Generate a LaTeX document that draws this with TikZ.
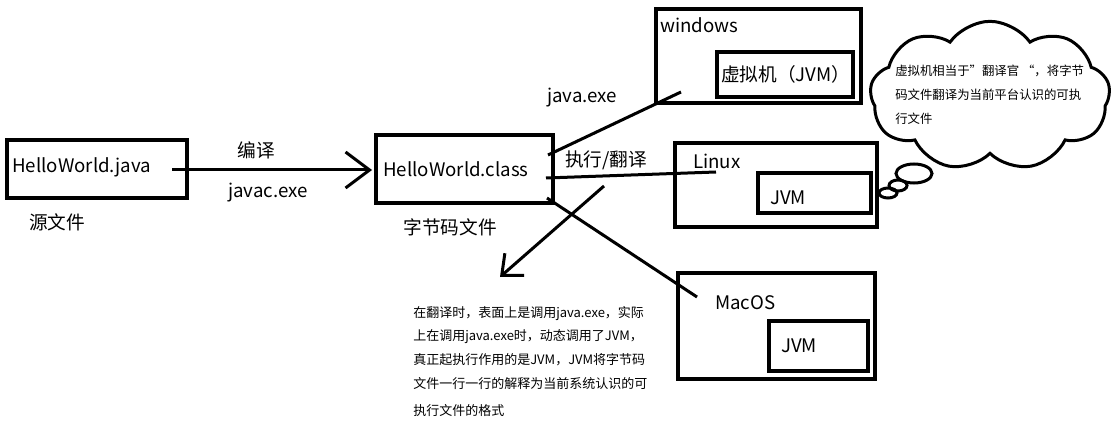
\documentclass[tikz,border=0pt]{standalone}
\usepackage{fontspec}
\setmainfont{Noto Sans CJK SC}
\usetikzlibrary{arrows.meta,shapes.symbols,shapes.geometric}
\begin{document}
\begin{tikzpicture}[x=0.75pt,y=-0.75pt,
  box/.style={draw,line width=2.6pt,rectangle,inner sep=0pt},
  conn/.style={line width=2.25pt},
  big/.style={font=\fontsize{14pt}{16pt}\selectfont,inner sep=0pt},
  small/.style={font=\fontsize{9.75pt}{12pt}\selectfont,inner sep=0pt,anchor=base west},
  cloudtext/.style={font=\fontsize{9.3pt}{12pt}\selectfont,inner sep=0pt,anchor=base west},
  bubble/.style={draw,line width=2.25pt,ellipse,inner sep=0pt}]
\useasboundingbox (0,0) rectangle (1118,431);
% boxes
\node[box,minimum width=135pt,minimum height=43.5pt] (java) at (97,169) {};
\node[box,minimum width=132.75pt,minimum height=51pt] (class) at (464.5,169) {};
\node[box,minimum width=153.75pt,minimum height=70.5pt] (win) at (758.5,56) {};
\node[box,minimum width=102pt,minimum height=33.75pt] (winjvm) at (785,74.5) {};
\node[box,minimum width=151.5pt,minimum height=63pt] (linux) at (776,185) {};
\node[box,minimum width=84.75pt,minimum height=30pt] (linuxjvm) at (814.5,193) {};
\node[box,minimum width=147.75pt,minimum height=79.5pt] (mac) at (776.5,326) {};
\node[box,minimum width=74.25pt,minimum height=37.5pt] (macjvm) at (818.5,346) {};
% labels
\node[big,anchor=base west] (tjava) at (12,173) {HelloWorld.java};
\node[big] (tsrc) at (57,222) {源文件};
\node[big] (tcomp) at (256,150) {编译};
\node[big,anchor=base] (tjavac) at (268,198) {javac.exe};
\node[big,anchor=base west] (tclass) at (383,177) {HelloWorld.class};
\node[big] (tbyte) at (450,227) {字节码文件};
\node[big] (texec) at (606,160) {执行/翻译};
\node[big,anchor=base] (tjexe) at (582,103) {java.exe};
\node[big,anchor=base west] (twin) at (660,33) {windows};
\node[big,anchor=base west] (twinjvm) at (721,82) {虚拟机（JVM）};
\node[big,anchor=base west] (tlinux) at (693,169) {Linux};
\node[big,anchor=base west] (tlinuxjvm) at (770,205) {JVM};
\node[big,anchor=base west] (tmac) at (715,309) {MacOS};
\node[big,anchor=base west] (tmacjvm) at (781,352) {JVM};
% connectors
\coordinate (c1) at (172,170);
\coordinate (c2) at (372,170);
\draw[conn,-{Straight Barb[length=18pt,width=27pt]}] (c1) -- (c2);
\coordinate (w1) at (548,155);
\coordinate (w2) at (681,92);
\draw[conn] (w1) -- (w2);
\coordinate (l1) at (546,178);
\coordinate (l2) at (716,172);
\draw[conn] (l1) -- (l2);
\coordinate (m1) at (547,198);
\coordinate (m2) at (697,297);
\draw[conn] (m1) -- (m2);
\coordinate (d1) at (604,186);
\coordinate (d2) at (500,277);
\draw[conn,-{Straight Barb[length=12.75pt,width=22pt]}] (d1) -- (d2);
% cloud
\node[cloud,draw,line width=2.25pt,cloud puffs=9,cloud puff arc=110,cloud ignores aspect,minimum width=180pt,minimum height=112pt,inner sep=0pt] (cloud) at (990,96) {};
\node[bubble,minimum width=27pt,minimum height=14.25pt] (b1) at (914,173.5) {};
\node[bubble,minimum width=13.5pt,minimum height=8.25pt] (b2) at (898,185.5) {};
\node[bubble,minimum width=13.5pt,minimum height=7.5pt] (b3) at (888,193) {};
\node[cloudtext] (q1) at (895,76) {虚拟机相当于”翻译官 “，将字节};
\node[cloudtext] (q2) at (895,100) {码文件翻译为当前平台认识的可执};
\node[cloudtext] (q3) at (895,124) {行文件};
% note
\node[small] (n1) at (413,317) {在翻译时，表面上是调用java.exe，实际};
\node[small] (n2) at (413,340) {上在调用java.exe时，动态调用了JVM，};
\node[small] (n3) at (413,364) {真正起执行作用的是JVM，JVM将字节码};
\node[small] (n4) at (413,388) {文件一行一行的解释为当前系统认识的可};
\node[small] (n5) at (413,415) {执行文件的格式};
\end{tikzpicture}
\end{document}
